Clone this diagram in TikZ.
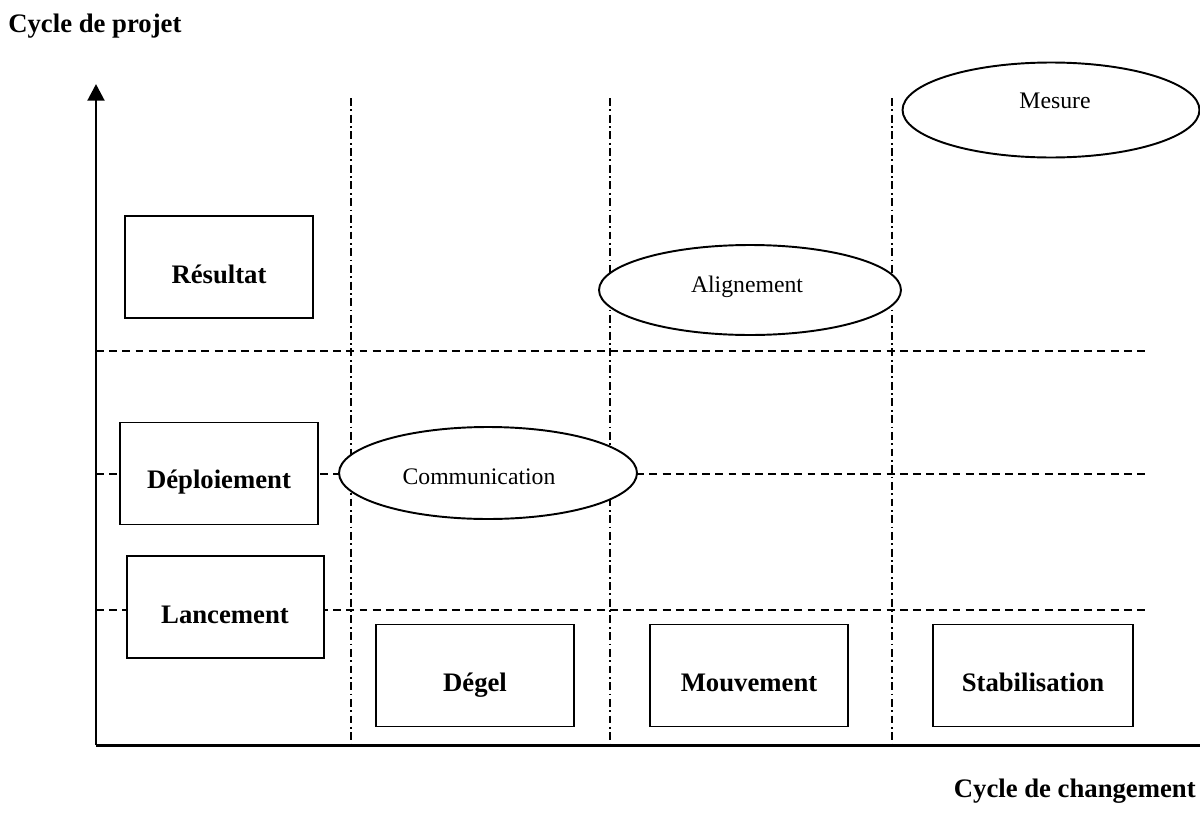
\documentclass[tikz,border=0pt]{standalone}
\usepackage{fontspec}
\setmainfont{Liberation Serif}
\usetikzlibrary{shapes.geometric,arrows.meta}
\begin{document}
\begin{tikzpicture}[x=0.02cm,y=-0.02cm,
  boxshape/.style={draw,line width=1.1pt,fill=white,rectangle,inner sep=0pt},
  ellshape/.style={draw,line width=1.1pt,fill=white,ellipse,inner sep=0pt},
  boldlbl/.style={font=\fontsize{15.2}{18}\selectfont\bfseries,inner sep=0pt},
  plainlbl/.style={font=\fontsize{13.5}{16}\selectfont,inner sep=0pt},
  hdash/.style={line width=0.8pt,dash pattern=on 4.5pt off 3pt},
  vdashdot/.style={line width=0.8pt,dash pattern=on 4.5pt off 2pt on 1pt off 2pt},
  axis/.style={line width=1.7pt}]
\useasboundingbox (0,0) rectangle (1200,832);
\clip (0,0) rectangle (1200,832);
% coordinates
\coordinate (o) at (96,745);
\coordinate (ytop) at (96,84);
\coordinate (xend) at (1202,745);
\foreach \x/\n in {351/a,610/b,892/c}{
  \coordinate (v\n1) at (\x,98);
  \coordinate (v\n2) at (\x,745);
}
\foreach \y/\n in {351/a,474/b,610/c}{
  \coordinate (h\n1) at (96,\y);
  \coordinate (h\n2) at (1148,\y);
}
% grid lines
\draw[vdashdot] (va1) -- (va2);
\draw[vdashdot] (vb1) -- (vb2);
\draw[vdashdot] (vc1) -- (vc2);
\draw[hdash] (ha1) -- (ha2);
\draw[hdash] (hb1) -- (hb2);
\draw[hdash] (hc1) -- (hc2);
% boxes
\node[boxshape,minimum width=3.76cm,minimum height=2.04cm] (res) at (219,267) {};
\node[boldlbl,anchor=base] (restxt) at (219,283) {Résultat};
\node[boxshape,minimum width=3.96cm,minimum height=2.04cm] (dep) at (219,473.5) {};
\node[boldlbl] (deptxt) at (219,482) {Déploiement};
\node[boxshape,minimum width=3.94cm,minimum height=2.04cm] (lan) at (225.5,607) {};
\node[boldlbl] (lantxt) at (225,615) {Lancement};
\node[boxshape,minimum width=3.96cm,minimum height=2.04cm] (deg) at (475,675.5) {};
\node[boldlbl,anchor=base] (degtxt) at (475,691) {Dégel};
\node[boxshape,minimum width=3.96cm,minimum height=2.04cm] (mou) at (749,675.5) {};
\node[boldlbl,anchor=base] (moutxt) at (749,691) {Mouvement};
\node[boxshape,minimum width=4.0cm,minimum height=2.04cm] (sta) at (1033,675.5) {};
\node[boldlbl,anchor=base] (statxt) at (1033,691) {Stabilisation};
% ellipses
\node[ellshape,minimum width=5.96cm,minimum height=1.84cm] (com) at (488,473) {};
\node[plainlbl] (comtxt) at (479,477) {Communication};
\node[ellshape,minimum width=6.04cm,minimum height=1.80cm] (ali) at (750,290) {};
\node[plainlbl] (alitxt) at (747,287) {Alignement};
\node[ellshape,minimum width=5.94cm,minimum height=1.90cm] (mes) at (1051,110) {};
\node[plainlbl] (mestxt) at (1055,101) {Mesure};
% axes
\draw[axis,-{Triangle[length=9.5pt,width=9.5pt]}] (o) -- (ytop);
\draw[axis] (o) -- (xend);
% titles
\node[boldlbl,anchor=west] (ytitle) at (8,26) {Cycle de projet};
\node[boldlbl,anchor=east] (xtitle) at (1196,791) {Cycle de changement};
\end{tikzpicture}
\end{document}
